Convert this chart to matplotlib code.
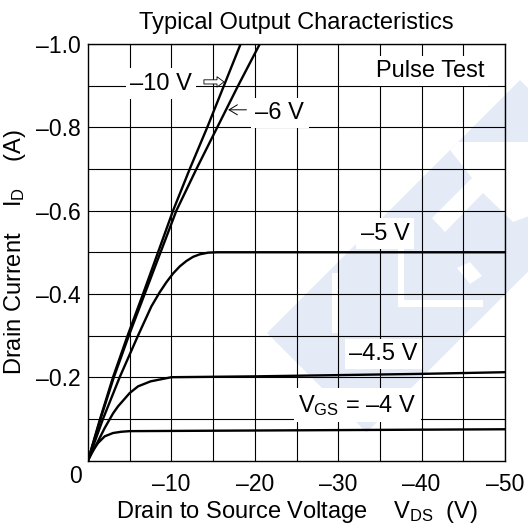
import matplotlib
matplotlib.use('Agg')
import matplotlib.pyplot as plt
from matplotlib.patches import Polygon
import numpy as np

plt.rcParams['font.family'] = ['Liberation Sans', 'DejaVu Sans']
plt.rcParams['mathtext.fontset'] = 'custom'
plt.rcParams['mathtext.rm'] = 'Liberation Sans'
plt.rcParams['mathtext.it'] = 'Liberation Sans:italic'
plt.rcParams['mathtext.bf'] = 'Liberation Sans:bold'

# ---------------- data (V_DS in V, I_D in A) ----------------
vds_m10 = [0, -1.45, -3.0, -4.75, -6.6, -8.4, -10.2, -12.2, -14.3, -16.3, -18.3]
id_m10 = [0, -0.1, -0.2, -0.3, -0.4, -0.5, -0.6, -0.7, -0.8, -0.9, -1.0]

vds_m6 = [0, -1.5, -3.1, -4.9, -6.8, -8.7, -10.6, -13.0, -15.5, -18.0, -20.6]
id_m6 = [0, -0.1, -0.2, -0.3, -0.4, -0.5, -0.6, -0.7, -0.8, -0.9, -1.0]

vds_m5 = [0, -1.8, -3.8, -6.0, -7.6, -8.6, -9.4, -10.2, -11.0, -11.8, -12.6, -13.4, -14.4, -15.5, -20, -30, -40, -50]
id_m5 = [0, -0.1, -0.2, -0.3, -0.37, -0.404, -0.428, -0.449, -0.466, -0.479, -0.489, -0.495, -0.499, -0.5, -0.5, -0.5, -0.5, -0.5]

vds_m45 = [0, -1.2, -2.0, -3.0, -3.6, -5.0, -6.0, -7.5, -10, -15, -20, -30, -40, -50]
id_m45 = [0, -0.046, -0.078, -0.113, -0.13, -0.162, -0.178, -0.19, -0.2, -0.201, -0.202, -0.205, -0.208, -0.212]

vds_m4 = [0, -0.4, -1.2, -2.0, -3.0, -4.0, -5.0, -10, -20, -30, -40, -50]
id_m4 = [0, -0.018, -0.042, -0.058, -0.066, -0.069, -0.0705, -0.071, -0.072, -0.073, -0.074, -0.075]

x_ticks = [-10, -20, -30, -40, -50]
x_ticklabels = ['\u201310', '\u201320', '\u201330', '\u201340', '\u201350']
x_minor = [-5, -15, -25, -35, -45]
y_ticks = [-0.2, -0.4, -0.6, -0.8, -1.0]
y_ticklabels = ['\u20130.2', '\u20130.4', '\u20130.6', '\u20130.8', '\u20131.0']
y_minor = [-0.1, -0.3, -0.5, -0.7, -0.9]

FS = 17
FS_TICK = 16.5

W, H = 528, 529
fig = plt.figure(figsize=(W / 100, H / 100), dpi=100)
fig.patch.set_facecolor('white')

# faint background watermark (decoration), pixel coords -> figure coords
wm_color = '#e4eaf6'
wm_blue = [
    [(267, 333), (520, 80), (620, 180), (366.5, 432.5)],
]
wm_white = [
    [(450, 150), (458, 142), (540, 142), (540, 212), (513, 222), (483, 193),
     (445, 232), (432, 218), (472, 178)],
    [(398, 247), (404, 247), (404, 300), (483, 300), (483, 307), (398, 307)],
    [(332, 273), (338, 273), (338, 333), (332, 333)],
    [(457, 268), (470, 262), (482, 276), (470, 284)],
]
for shapes, col in ((wm_blue, wm_color), (wm_white, 'white')):
    for shp in shapes:
        pts = [(px / W, 1 - py / H) for px, py in shp]
        fig.patches.append(Polygon(pts, closed=True, transform=fig.transFigure,
                                   facecolor=col, edgecolor='none', zorder=-10))

ax = fig.add_axes([88 / W, 1 - 460.5 / H, 417 / W, 416.5 / H])
ax.set_zorder(1)
ax.patch.set_alpha(0)
ax.set_xlim(0, -50)
ax.set_ylim(0, -1.0)

ax.set_xticks(x_ticks)
ax.set_xticklabels(x_ticklabels, fontsize=FS_TICK)
ax.set_xticks(x_minor, minor=True)
ax.set_yticks(y_ticks)
ax.set_yticklabels(y_ticklabels, fontsize=FS_TICK)
ax.set_yticks(y_minor, minor=True)
ax.tick_params(which='both', length=0)
ax.tick_params(axis='x', pad=9)
ax.tick_params(axis='y', pad=5)
ax.grid(True, which='both', color='black', lw=0.8)
ax.set_axisbelow(True)
for sp in ax.spines.values():
    sp.set_linewidth(1.0)

curve_kw = dict(color='black', lw=1.7, solid_capstyle='butt', solid_joinstyle='round', zorder=3)
ax.plot(vds_m10, id_m10, **curve_kw)
ax.plot(vds_m6, id_m6, **curve_kw)
ax.plot(vds_m5, id_m5, **curve_kw)
ax.plot(vds_m45, id_m45, **curve_kw)
ax.plot(vds_m4, id_m4, **curve_kw)

box = dict(facecolor='white', edgecolor='none', pad=3)
ax.text(-41.0, -0.935, 'Pulse Test', fontsize=FS, ha='center', va='center', bbox=box, zorder=4)
ax.text(-8.75, -0.905, '\u201310 V', fontsize=FS, ha='center', va='center', bbox=box, zorder=4)
ax.text(-23.0, -0.834, '\u20136 V', fontsize=FS, ha='center', va='center', bbox=box, zorder=4)
ax.text(-35.6, -0.545, '\u20135 V', fontsize=FS, ha='center', va='center', bbox=box, zorder=4)
ax.text(-35.4, -0.256, '\u20134.5 V', fontsize=FS, ha='center', va='center', bbox=box, zorder=4)
ax.text(-32.3, -0.133, 'V$_{\\mathrm{GS}}$ = \u20134 V', fontsize=FS, ha='center', va='center',
        bbox=box, zorder=4)

ax.annotate('', xy=(-16.3, -0.909), xytext=(-13.9, -0.909),
            arrowprops=dict(arrowstyle='simple,head_length=0.5,head_width=0.75,tail_width=0.3',
                            fc='white', ec='black', lw=0.6, mutation_scale=10,
                            shrinkA=0, shrinkB=0), zorder=5)
ax.annotate('', xy=(-16.8, -0.842), xytext=(-19.0, -0.842),
            arrowprops=dict(arrowstyle='->,head_length=0.5,head_width=0.3',
                            color='black', lw=0.7, mutation_scale=12,
                            shrinkA=0, shrinkB=0), zorder=5)

ax.annotate('0', xy=(0, 0), xytext=(-9, -11.5), textcoords='offset points',
            ha='center', va='center', fontsize=FS_TICK, annotation_clip=False)

ax.set_xlabel('Drain to Source Voltage    V$_{\\mathrm{DS}}$  (V)', fontsize=FS, labelpad=2)
ax.set_ylabel('Drain Current    I$_{\\mathrm{D}}$    (A)', fontsize=FS, labelpad=6)
fig.text(296 / W, 1 - 23 / H, 'Typical Output Characteristics', fontsize=FS,
         ha='center', va='center')

fig.savefig('out.png', dpi=100, facecolor='white')
